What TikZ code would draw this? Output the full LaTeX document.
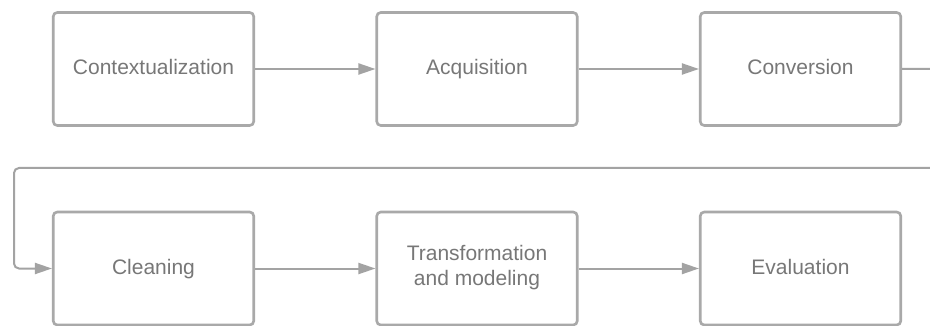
\documentclass[tikz,border=0pt]{standalone}
\usepackage{fontspec}
\setmainfont{Liberation Sans}
\usetikzlibrary{arrows.meta}
\definecolor{boxline}{HTML}{A9A9A9}
\definecolor{linkline}{HTML}{A3A3A3}
\definecolor{label}{HTML}{777777}
\begin{document}
\begin{tikzpicture}[x=1pt,y=-1pt,
  stage/.style={draw=boxline, line width=2.6pt, rounded corners=4pt, fill=white,
    minimum width=200.5pt, minimum height=113pt, inner sep=0pt, align=center,
    text height=15.5pt, text depth=3.9pt,
    text=label, font=\fontsize{21}{25}\selectfont},
  twoline/.style={text height=36.9pt},
  link/.style={draw=linkline, line width=2pt, rounded corners=5pt,
    -{Triangle[length=17pt,width=11pt]}}]
  \clip (0,0) rectangle (930,326);
  \fill[white] (0,0) rectangle (930,326);

  % first row
  \node[stage] (ctx)  at (153.5,69) {Contextualization};
  \node[stage] (acq)  at (477,69)   {Acquisition};
  \node[stage] (conv) at (800.5,69) {Conversion};

  % second row
  \node[stage] (clean) at (153.5,268.5) {Cleaning};
  \node[stage, twoline] (trans) at (477,268.5) {Transformation\\and modeling};
  \node[stage] (eval)  at (800.5,268.5) {Evaluation};

  % turning points of the wrap-around connector
  \coordinate (outR) at (960,69);
  \coordinate (backR) at (960,168);
  \coordinate (backL) at (14,168);
  \coordinate (downL) at (14,268.5);

  \draw[link] (ctx) -- (acq);
  \draw[link] (acq) -- (conv);
  \draw[link] (conv.east) -- (outR) -- (backR) -- (backL) -- (downL) -- (clean.west);
  \draw[link] (clean) -- (trans);
  \draw[link] (trans) -- (eval);
\end{tikzpicture}
\end{document}
